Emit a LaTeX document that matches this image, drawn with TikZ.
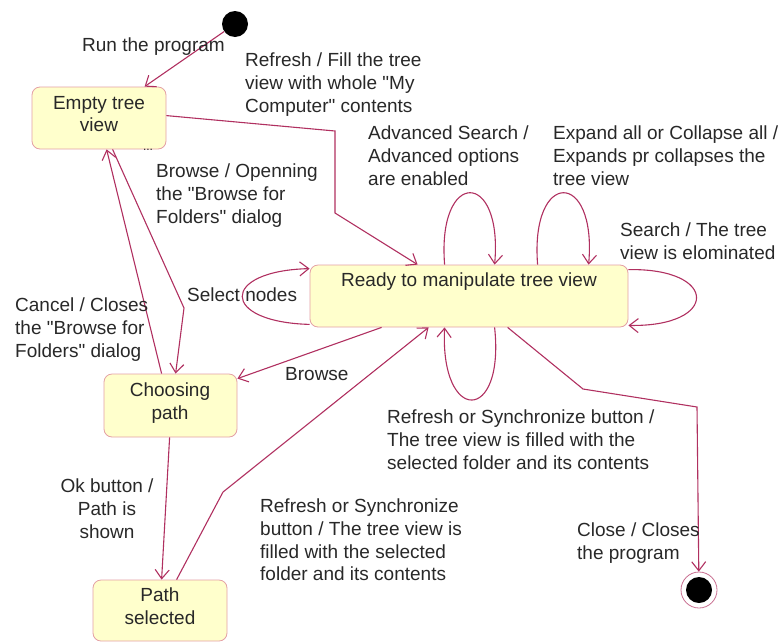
\documentclass[tikz,border=0pt]{standalone}
\usepackage{fontspec}
\setmainfont{Liberation Sans}[Ligatures=TeXOff]
\usetikzlibrary{arrows.meta,calc}
\definecolor{lc}{RGB}{176,48,96}
\definecolor{bc}{RGB}{228,160,165}
\definecolor{sf}{RGB}{255,255,204}
\definecolor{tc}{RGB}{40,40,40}
\begin{document}
\begin{tikzpicture}[x=1pt,y=-1pt,
  state/.style={draw=bc, fill=sf, rounded corners=8pt, line width=0.8pt, inner sep=0pt},
  lbl/.style={text=tc, font=\fontsize{19}{22.6}\selectfont, align=left, anchor=north west, inner sep=0pt},
  stxt/.style={text=tc, font=\fontsize{19}{22.6}\selectfont, align=center, anchor=north, inner sep=0pt},
  tr/.style={draw=lc, line width=1.1pt, -{Straight Barb[length=9pt,width=14pt]}}]
\useasboundingbox (0,0) rectangle (781,643);
% states
\node[state, minimum width=134pt, minimum height=62pt] (empty) at (99,118) {};
\node[state, minimum width=318pt, minimum height=62pt] (ready) at (469,296) {};
\node[state, minimum width=133pt, minimum height=63pt] (choosing) at (170.5,405.5) {};
\node[state, minimum width=134pt, minimum height=61pt] (pathsel) at (160,610.5) {};
\node[circle, fill=black, minimum size=26pt, inner sep=0pt] (init) at (235,24) {};
\node[circle, draw=lc!70, line width=0.8pt, minimum size=36pt, inner sep=0pt,
  path picture={\fill[black] (path picture bounding box.center) circle (13pt);}] (final) at (699,590) {};
% state texts
\node[stxt] (emptyt) at (99,96) {Empty tree\\view};
\node[stxt] (readyt) at (469,273) {Ready to manipulate tree view};
\node[stxt] (choosingt) at (170,383) {Choosing\\path};
\node[stxt] (pathselt) at (160,588) {Path\\selected};
% transitions
\draw[tr] (init) -- ($(empty.north west)+(113,0)$);
\draw[tr] ($(empty.north east)+(0,29)$) -- (335,131) -- (335,213) -- ($(ready.north west)+(108,0)$);
\draw[tr] ($(empty.south west)+(81,0)$) -- (184,308) -- ($(choosing.north west)+(72,0)$);
\draw[tr] ($(choosing.north west)+(58,0)$) -- ($(empty.south west)+(75,0)$);
\draw[tr] ($(ready.south west)+(72,0)$) -- ($(choosing.north east)+(0,5)$);
\draw[tr] ($(pathsel.north west)+(84,0)$) -- (223,492) -- ($(ready.south west)+(119,0)$);
\draw[tr] ($(choosing.south west)+(66,0)$) -- ($(pathsel.north west)+(69,0)$);
\draw[tr] ($(ready.south west)+(198,0)$) -- (583,389) -- (697,407) -- (final);
% self loops
\draw[tr] ($(ready.south west)+(0,-3)$) .. controls (220,322) and (220,271) .. ($(ready.north west)+(0,4)$);
\draw[tr] ($(ready.north west)+(135,0)$) .. controls (437,169) and (503,169) .. ($(ready.north west)+(185,0)$);
\draw[tr] ($(ready.north west)+(228,0)$) .. controls (530,169) and (597,169) .. ($(ready.north west)+(279,0)$);
\draw[tr] ($(ready.north east)+(0,5)$) .. controls (719,268) and (719,327) .. ($(ready.south east)+(0,-2)$);
\draw[tr] ($(ready.south west)+(185,0)$) .. controls (505,424) and (440,424) .. ($(ready.south west)+(135,0)$);
% labels
\node[lbl] (l1) at (82,38) {Run the program};
\node[lbl] (l2) at (245,53) {Refresh / Fill the tree\\view with whole "My\\Computer" contents};
\node[text=tc, font=\fontsize{12}{12}\selectfont, anchor=base, inner sep=0pt] (dots) at (148,150) {...};
\node[lbl] (l4) at (156,164) {Browse / Openning\\the "Browse for\\Folders" dialog};
\node[lbl] (l5) at (368,126) {Advanced Search /\\Advanced options\\are enabled};
\node[lbl] (l6) at (553,126) {Expand all or Collapse all /\\Expands pr collapses the\\tree view};
\node[lbl] (l7) at (620,223) {Search / The tree\\view is elominated};
\node[lbl] (l8) at (187,288) {Select nodes};
\node[lbl] (l9) at (15,298) {Cancel / Closes\\the "Browse for\\Folders" dialog};
\node[lbl] (l10) at (285,367) {Browse};
\node[lbl] (l11) at (387,410) {Refresh or Synchronize button /\\The tree view is filled with the\\selected folder and its contents};
\node[stxt] (l12) at (107,479) {Ok button /\\Path is\\shown};
\node[lbl] (l13) at (260,499) {Refresh or Synchronize\\button / The tree view is\\filled with the selected\\folder and its contents};
\node[lbl] (l14) at (577,523) {Close / Closes\\the program};
\end{tikzpicture}
\end{document}
